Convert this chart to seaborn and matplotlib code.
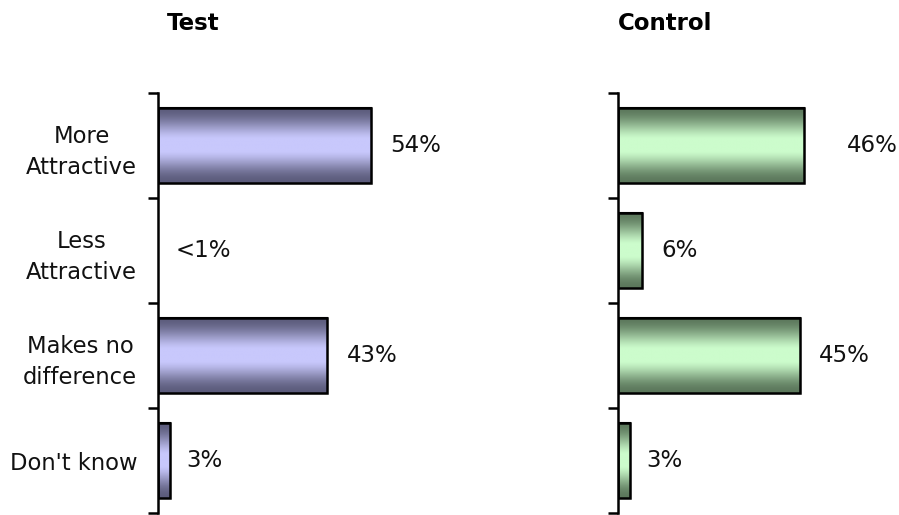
import numpy as np
import pandas as pd
import matplotlib
matplotlib.use("Agg")
import matplotlib.pyplot as plt
from matplotlib.patches import Rectangle
from matplotlib.colors import LinearSegmentedColormap
import seaborn as sns

categories = ["More\nAttractive", "Less\nAttractive", "Makes no\ndifference", "Don't know"]
test_values = [54, 0, 43, 3]
test_labels = ["54%", "<1%", "43%", "3%"]
control_values = [46, 6, 45, 3]
control_labels = ["46%", "6%", "45%", "3%"]
panel_titles = ["Test", "Control"]

sns.set_style("white")
plt.rcParams["font.family"] = ["DejaVu Sans"]

W, H = 899, 515
fig = plt.figure(figsize=(W / 100, H / 100), dpi=100)

def px_axes(left, bottom_px, right, top_px):
    return [left / W, 1 - bottom_px / H, (right - left) / W, (bottom_px - top_px) / H]

# axes placement (pixels)
ax_t = fig.add_axes(px_axes(158, 513, 158 + 3.94 * 60, 93))
ax_c = fig.add_axes(px_axes(618, 513, 618 + 4.04 * 60, 93))

panels = [
    (ax_t, test_values, test_labels, ("#5c5c7c", "#c8c8fc"), [14, 13, 14, 12], True),
    (ax_c, control_values, control_labels, ("#5c785c", "#ccfccc"), [31, 14, 14, 12], False),
]

for ax, vals, labs, (dark, light), offs, show_y in panels:
    df = pd.DataFrame({"cat": categories, "val": vals})
    sns.barplot(data=df, x="val", y="cat", orient="h", color=light, width=0.72,
                edgecolor="black", linewidth=1.5, ax=ax, saturation=1)
    ax.set_xlim(0, 60)
    ax.set_ylim(3.5, -0.5)
    cmap = LinearSegmentedColormap.from_list("g", [dark, light])
    yy = np.linspace(0, 1, 200)
    prof = np.clip(np.sin(np.pi * yy) ** 2 * 1.08, 0, 1)
    grad = prof[:, None]
    for p in list(ax.patches):
        x0, y0 = p.get_x(), p.get_y()
        w, h = p.get_width(), p.get_height()
        if w <= 0:
            p.set_visible(False)
            continue
        im = ax.imshow(grad, cmap=cmap, vmin=0, vmax=1, aspect="auto",
                       extent=[x0, x0 + w, y0 + h, y0], zorder=p.get_zorder() + 0.1,
                       interpolation="bilinear")
        im.set_clip_path(p)
        ax.add_patch(Rectangle((x0, y0), w, h, fill=False, edgecolor="black",
                               linewidth=1.8, zorder=p.get_zorder() + 0.2))
    ax.set_xlim(0, 60)
    ax.set_ylim(3.5, -0.5)
    for i, (v, lab, o) in enumerate(zip(vals, labs, offs)):
        ax.annotate(lab, xy=(v, i), xytext=(o, 0), textcoords="offset points",
                    ha="left", va="center", fontsize=16.5, color="#111111",
                    annotation_clip=False)
    for s in ["top", "right", "bottom"]:
        ax.spines[s].set_visible(False)
    ax.spines["left"].set_color("black")
    ax.spines["left"].set_linewidth(1.8)
    ax.set_xticks([])
    ax.set_xlabel("")
    ax.set_ylabel("")
    ax.set_yticks([-0.5, 0.5, 1.5, 2.5, 3.5], minor=True)
    ax.tick_params(axis="y", which="minor", length=7, width=1.8, color="black", left=True, direction="out")
    ax.tick_params(axis="y", which="major", length=0, pad=15)
    ax.set_yticks(range(len(categories)))
    if show_y:
        ax.set_yticklabels(categories, fontsize=16.3, color="#111111", linespacing=1.45,
                           multialignment="center")
    else:
        ax.set_yticklabels([])
    ax.set_facecolor("white")

fig.text(193 / W, 1 - 23 / H, panel_titles[0], ha="center", va="center",
         fontsize=16.5, fontweight="bold", color="black")
fig.text(665 / W, 1 - 23 / H, panel_titles[1], ha="center", va="center",
         fontsize=16.5, fontweight="bold", color="black")

fig.savefig("out.png", dpi=100, facecolor="white")
